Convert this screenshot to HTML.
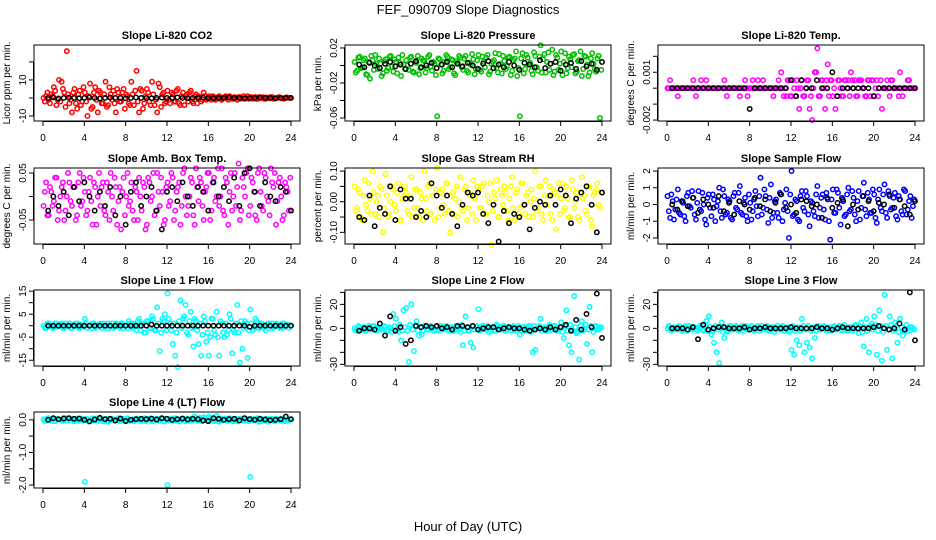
<!DOCTYPE html>
<html><head><meta charset="utf-8"><style>
html,body{margin:0;padding:0;background:#fff;}
svg{display:block;font-family:"Liberation Sans",sans-serif;}
</style></head><body>
<svg id="chart" width="936" height="540" viewBox="0 0 936 540" xmlns="http://www.w3.org/2000/svg">
<rect width="936" height="540" fill="#fff"/>
<text x="468" y="14" text-anchor="middle" font-size="13">FEF_090709  Slope Diagnostics</text>
<text x="468" y="531" text-anchor="middle" font-size="13">Hour of Day (UTC)</text>
</svg>
<script>
const xTicks = [0,4,8,12,16,20,24];
const co2Values = [0,1,-1,2,6,-4,10,9,3,26,-3,-8,5,-6,4,-2,3,-10,8,-5,6,-8,3,-3,9,-4,2,4,-8,3,-2,5,2,-3,9,-4,15,-8,4,-3,5,-2,9,-4,-8,6,2,-3,4,-3,2,-2,5,-4,3,1,-2,4,-3,2,1,-2,3,-1,1,-1,0.5,-0.5,1,-1,0.5,0,1,-0.5,0.5,-1,0.5,0,-0.5,1,0,-0.5,0.5,-0.5,0,0.5,-0.5,0,0.5,-0.5,0,0.5,0,-0.5,0.3,0];
const co2ValuesB = [-2,3,-3,1,4,-1,-2,5,-5,2,-1,3,-3,2,-4,6,-2,1,-6,3,-1,4,-3,2,-5,6,-1,-3,5,-2,3,-6,1,-4,2,4,-2,5,-6,1,3,-4,2,-1,8,-5,3,-2,-1,3,-2,4,-3,1,-4,2,3,-2,1,-3,0.5,-1,1,-0.5,0,1,-1,0.5,-0.5,0,1,-1,0.5,-0.5,0,0.5,-0.5,1,0,-0.5,0.5,0,-0.5,0.5,0,-0.5,0.3,0,0.5,-0.3,0,0.3,-0.3,0,0.3,0];
const co2Ref = [0,0.3,-0.3,0,0.2,0,-0.2,0,0.3,0,-0.3,0,0.2,0,0,-0.2,0,0.3,0,0,-0.2,0,0.2,0,0,0.3,0,-0.2,0,0,0.2,0,-0.2,0,0,0.2,0,0,-0.2,0,0,0.2,0,0,-0.2,0,0,0];
const pressureValues = [0.004,-0.006,0.010,-0.002,0.008,-0.011,-0.015,0.006,0.012,-0.004,0.002,-0.009,0.007,-0.003,0.011,-0.007,0.004,0.009,-0.012,0.001,0.006,-0.005,0.010,-0.008,0.003,-0.010,0.008,0.005,-0.003,0.012,-0.006,0.002,-0.058,0.007,-0.009,0.004,0.010,-0.002,0.006,-0.011,0.003,0.009,-0.005,0.011,-0.008,0.001,0.007,-0.004,0.012,-0.007,0.004,0.009,-0.010,0.002,0.006,-0.003,0.013,-0.009,0.005,-0.001,0.010,-0.006,0.008,-0.012,-0.058,0.014,-0.004,0.009,0.003,-0.010,0.011,-0.006,0.023,0.007,-0.008,0.015,0.002,-0.011,0.012,-0.005,0.016,0.004,-0.009,0.010,-0.002,0.013,-0.007,0.006,-0.012,0.011,0.001,-0.008,0.014,-0.004,0.008,-0.060];
const pressureValuesB = [-0.008,0.009,-0.003,0.006,-0.010,0.004,0.011,-0.005,0.002,0.008,-0.012,0.005,-0.006,0.010,-0.001,0.007,-0.009,0.003,0.012,-0.004,0.000,0.009,-0.007,0.004,0.011,-0.003,0.006,-0.008,0.010,-0.001,0.004,-0.011,0.008,0.001,-0.006,0.012,-0.004,0.007,-0.009,0.005,0.011,-0.002,0.008,-0.006,0.003,0.013,-0.010,0.006,-0.005,0.010,-0.002,0.012,-0.007,0.004,0.014,-0.008,0.002,0.011,-0.004,0.009,-0.011,0.006,0.016,-0.003,0.008,-0.009,0.012,0.001,-0.006,0.015,-0.002,0.010,-0.008,0.013,0.004,-0.005,0.018,-0.007,0.009,0.002,-0.011,0.014,-0.003,0.007,0.012,-0.009,0.005,0.016,-0.004,0.010,-0.012,0.008,0.002,-0.007,0.011,-0.005];
const pressureRef = [0.001,-0.002,0.003,0.000,-0.003,0.002,0.004,-0.001,0.001,-0.004,0.002,0.005,-0.002,0.000,0.003,-0.003,0.001,0.004,-0.002,0.002,-0.001,0.003,0.000,-0.004,0.002,0.005,-0.003,0.001,-0.002,0.004,0.000,-0.005,0.003,0.001,-0.002,0.006,-0.003,0.002,0.004,-0.006,0.001,0.003,-0.004,0.005,-0.001,0.002,-0.005,0.004];
const tempValues = [0,0.0005,0,0,-0.0005,0,0,0,0,0,0.0005,-0.0005,0,0.0005,0,0.0005,0,0,0,0,0,0,0.0005,-0.0005,0,0,0,0,-0.0005,0,0.0005,-0.0005,0,0.0005,0,0.0005,0,0.0005,0,0,0,-0.0005,0,0.0005,0.001,-0.0005,-0.0005,0.0005,-0.0005,0,0.0005,-0.0013,0.0005,-0.0005,0.0005,-0.0013,-0.002,0.001,0.0025,-0.0005,0.0005,-0.0013,0.0015,0.0005,-0.0005,-0.0013,0.0005,0,-0.0005,0.0005,0.0005,0.001,0,-0.0005,0.0005,0.0005,0,-0.0005,0.0005,0.0005,-0.0005,0.0005,0,-0.0013,0,0.0005,-0.0005,0.0005,0,0,0.001,-0.0005,0,0.0005,0,0];
const tempValuesB = [0,0,0,0,0,0,0,0,0,0,0,0,0,0,0,0,0,0,0,0,0,0,0,0,0,0,0,0,0,0,0,0,0,0,0,0,0,0,0,0,0,0,0,0,0,0,0.0005,-0.0005,0.0005,-0.0005,0,0,-0.0005,0,0.0005,-0.0005,0,0.001,-0.0005,0.0005,0,0.0005,-0.0005,0.0005,0,-0.0005,0.0005,-0.0005,0.0005,0,-0.0005,0.0005,0.0005,-0.0005,0.0005,0,-0.0005,0.0005,-0.0005,0.0005,0,-0.0005,0.0005,0,0,0,0.0005,0,0,-0.0005,0,0,0,0.0005,0,0];
const tempRef = [0,0,0,0,0,0,0,0,0,0,0,0,0,0,0,-0.0013,0,0,0,0,0,0,0,0.0005,-0.0005,0.0005,0,0,0.0005,0,0,0.001,-0.0005,0,0,0,0,0,0,-0.0005,0,0,0,0,0,0,0,0];
const ambValues = [-0.02,0.03,-0.04,0.01,-0.01,0.04,-0.03,0.02,-0.05,0.00,0.03,-0.02,0.02,-0.04,0.05,-0.01,0.01,-0.03,0.04,-0.06,0.02,0.00,-0.02,0.03,-0.04,0.01,0.05,-0.03,0.02,-0.01,-0.07,0.04,0.00,-0.02,0.03,-0.05,0.01,0.04,-0.03,0.02,-0.06,0.03,0.00,-0.04,0.05,-0.02,0.01,-0.05,0.03,-0.01,0.04,-0.03,0.02,-0.06,0.05,0.00,-0.02,0.04,-0.04,0.06,-0.01,0.03,-0.05,0.02,0.05,-0.03,0.04,0.00,-0.02,0.06,-0.04,0.03,0.01,-0.03,0.05,0.02,-0.05,0.04,0.00,0.06,-0.02,0.03,-0.04,0.05,0.01,-0.03,0.04,-0.01,0.06,0.02,-0.06,0.03,0.00,-0.04,0.02,-0.03];
const ambValuesB = [0.01,-0.04,0.02,-0.02,0.04,-0.05,0.00,0.03,-0.03,0.05,-0.01,0.02,-0.05,0.03,-0.02,0.04,-0.04,0.01,-0.01,0.03,-0.06,0.05,0.02,-0.03,0.03,-0.05,0.00,0.04,-0.06,0.02,0.01,-0.04,0.05,-0.01,-0.03,0.02,-0.05,0.00,0.03,-0.07,0.04,-0.01,0.05,-0.03,0.01,0.04,-0.06,0.02,-0.02,0.05,-0.05,0.01,0.03,-0.02,0.06,-0.04,0.00,0.03,-0.06,0.02,0.04,-0.02,0.01,0.05,-0.05,0.03,-0.01,0.06,0.00,-0.03,0.04,-0.06,0.05,0.00,-0.02,0.07,-0.03,0.02,0.05,-0.04,0.04,0.01,-0.05,0.06,-0.02,0.05,0.00,-0.04,0.03,0.05,-0.01,0.04,-0.05,0.03,0.01,0.04];
const ambRef = [-0.03,0.00,-0.02,0.01,-0.04,0.02,-0.01,0.03,0.00,-0.03,0.01,-0.02,0.02,-0.04,0.00,-0.06,0.01,0.03,-0.02,0.00,0.02,-0.03,-0.07,0.01,0.02,-0.01,0.03,0.00,-0.02,0.02,0.01,-0.03,0.03,0.00,0.02,-0.01,0.04,-0.02,0.05,0.06,0.01,-0.02,0.03,0.00,-0.01,0.02,0.01,-0.03];
const rhValues = [0.05,-0.02,0.03,-0.06,0.07,-0.03,0.01,0.10,-0.04,0.02,0.05,-0.10,0.09,-0.05,0.00,0.04,-0.03,0.06,-0.06,0.02,0.03,-0.04,0.08,-0.02,0.04,-0.05,0.01,0.10,-0.03,0.06,0.02,-0.06,0.11,-0.02,0.04,-0.04,0.06,-0.10,0.03,0.01,-0.05,0.08,-0.03,0.05,-0.02,0.02,0.07,-0.06,0.04,-0.02,0.06,-0.04,0.00,-0.14,0.03,0.07,-0.05,0.02,0.05,-0.03,0.01,0.08,-0.06,0.04,-0.02,0.06,-0.04,0.03,0.00,-0.05,0.10,-0.02,0.05,-0.06,0.07,0.02,-0.04,0.04,-0.09,0.06,0.01,-0.03,0.05,-0.05,0.07,-0.02,0.03,-0.06,0.08,0.02,-0.04,0.05,-0.08,0.03,0.06,-0.02];
const rhValuesB = [-0.03,0.04,-0.05,0.02,-0.01,0.06,-0.04,0.03,0.00,-0.05,0.04,-0.02,0.02,-0.04,0.05,-0.01,0.03,-0.06,0.01,0.05,-0.03,0.02,-0.05,0.04,-0.02,0.03,-0.06,0.01,0.05,-0.04,0.02,0.04,-0.05,0.03,-0.01,0.06,-0.03,0.02,-0.04,0.05,0.00,-0.02,0.04,-0.06,0.03,-0.04,0.01,0.05,-0.02,0.05,-0.04,0.02,0.06,-0.03,0.01,-0.05,0.04,-0.01,0.03,-0.06,0.05,-0.02,0.03,-0.04,0.06,-0.01,0.02,-0.05,0.04,0.01,-0.03,0.05,-0.04,0.02,-0.01,0.05,-0.06,0.03,0.02,-0.04,0.06,-0.02,0.01,-0.05,0.04,0.00,-0.05,0.03,0.01,-0.03,0.05,-0.06,0.02,0.04,-0.01,0.03];
const rhRef = [-0.05,-0.06,0.02,-0.08,-0.02,-0.04,0.05,-0.06,0.04,0.01,0.01,-0.05,-0.03,-0.05,0.06,0.02,-0.02,0.02,-0.04,-0.08,-0.01,0.03,0.02,0.03,-0.04,-0.07,-0.01,-0.13,-0.03,-0.07,-0.04,-0.05,-0.01,-0.09,-0.02,0.00,-0.01,0.02,-0.01,0.04,0.02,-0.07,0.01,0.03,0.05,-0.01,-0.10,0.03];
const sampleValues = [0.5,-0.8,0.2,-0.3,0.9,-0.6,0.1,-1.0,0.7,-0.2,0.4,-0.9,0.8,-0.4,0.0,-1.2,0.6,-0.7,0.3,-0.1,1.0,-0.8,0.5,-0.5,0.2,-0.9,0.7,-0.3,1.1,-0.6,0.4,-1.0,0.1,-0.4,0.8,-0.7,1.6,-0.2,0.5,-1.1,1.2,-0.5,0.3,-0.8,0.6,-0.3,0.9,-2.0,2.0,-0.6,0.2,-1.0,0.8,-0.4,0.5,-1.3,0.1,-0.7,1.1,-0.2,0.6,-0.9,0.3,-2.1,0.9,-0.5,0.7,-1.2,0.2,-0.6,1.0,-0.3,0.4,-1.0,0.8,-0.2,1.3,-0.7,0.3,-0.5,0.6,-1.1,0.9,-0.4,1.2,-0.8,0.5,-0.2,0.7,-0.9,0.3,-0.6,0.8,-0.3,0.5,-0.1];
const sampleValuesB = [-0.4,0.6,-0.9,0.3,-0.5,0.2,-0.7,0.5,-0.1,0.8,-0.6,0.1,-0.3,0.7,-0.9,0.4,-0.2,0.6,-1.0,0.2,-0.4,0.9,-0.6,0.3,-0.8,0.5,-0.2,0.7,-0.5,0.1,-0.7,0.6,-0.9,0.3,-0.1,0.5,-0.6,0.9,-0.3,0.4,-0.8,0.2,-0.5,0.7,-1.0,0.1,-0.4,0.6,-0.7,0.3,-0.9,0.5,-0.2,0.8,-0.6,0.2,-0.4,0.6,-0.8,0.4,-0.3,0.7,-1.0,0.3,-0.5,0.9,-0.2,0.4,-0.7,0.6,-0.4,0.8,-0.6,0.2,-0.9,0.5,-0.3,0.7,-0.5,0.9,-0.8,0.3,-0.2,0.6,-0.5,0.8,-0.3,0.4,-0.7,0.5,-0.4,0.9,-0.6,0.2,-0.8,0.3];
const sampleRef = [0.0,-0.3,0.2,-0.1,0.4,-0.5,0.3,0.0,-0.2,0.5,-0.4,0.1,-0.6,0.2,0.0,-0.3,0.4,-0.1,0.3,-0.4,0.1,0.6,-0.2,0.0,-0.5,0.3,0.2,-0.1,0.0,-0.8,0.4,-0.2,0.1,0.3,-1.3,0.0,-0.3,0.5,0.2,-0.4,0.1,0.0,0.6,-0.2,0.3,-0.1,-0.6,0.2];
const line1Values = [0,-1,1,0,-1,1,0,1,-1,0,1,-1,0,1,-1,0,3,-1,0,1,-1,0,1,0,-1,1,0,-1,1,0,1,-1,0,2,-1,1,-2,3,1,-3,2,-1,4,-2,8,-11,3,5,14,1,-8,-13,-18,11,3,9,-4,6,-9,2,-8,-13,4,-7,-13,3,-2,6,-13,1,-5,-4,5,-12,-3,9,-16,-10,2,-14,7,-2,3,-1,1,0,-2,1,0,-1,1,0,-1,1,0,-1];
const line1ValuesB = [-1,1,0,-1,1,-0.5,0.5,-1,1,0,-1,0.5,1,-1,0.5,-0.5,1,0,-1,1,-0.5,0.5,-1,1,0,-1,1,-0.5,0.5,-1,1,0,-1,1,-0.5,0.5,2,-2,1,-3,2,-1,3,-2,1,-3,2,-2,3,-2,1,-3,2,-1,4,-3,2,-1,3,-2,1,-4,2,-3,-5,3,-4,-5,2,-3,1,-2,3,-2,1,-3,2,-1,1,-2,1,-1,2,-1,1,-1,0.5,-1,1,-0.5,0.5,-1,1,-0.5,0.5,0];
const line1Ref = [0,0,0,0,0,0,0,0,0,0,0,0,0,0,0,0,0,0,0,0,0.5,0,0,0,0,0,0,0,0,0,0,0,0,0,0,0,0,0,0,-0.5,0,0,0,0,0,0,0,0];
const line2Values = [0,-1,1,0,-2,1,0,2,-1,1,0,-1,1,-2,0,12,8,-3,-10,15,17,-28,20,-19,6,-6,-5,2,-1,1,0,-1,2,-1,1,0,-1,1,-2,0,1,-3,-14,10,-2,-12,-16,1,16,-1,2,0,-3,1,-2,3,0,-1,2,-1,0,1,-2,0,-5,1,-2,0,2,-20,-18,1,8,0,-2,1,-1,2,0,-1,5,-8,15,-14,-20,27,-4,-26,6,-1,-13,18,-20,2,-1,0];
const line2ValuesB = [-2,2,-1,1,-2,2,-1,2,-2,1,-1,2,-2,1,-3,2,-1,3,-2,1,-2,3,-1,2,-2,1,-2,2,-1,2,-2,1,-2,2,-1,2,-2,1,-2,2,-1,3,-2,1,-2,2,-1,2,-2,2,-1,2,-2,1,-2,2,-1,2,-2,1,-2,2,-1,2,-2,1,-2,2,-3,2,-1,2,-2,1,-2,3,-1,2,-2,1,-3,2,-2,3,-2,1,-3,2,-2,3,-1,2,-3,2,-1,1];
const line2Ref = [-2,0,0,-1,4,-6,10,-2,1,-13,-10,2,1,2,1,2,0,1,-1,2,2,1,2,-1,0,1,1,-1,0,1,0,0,-1,-2,-1,0,-1,1,-1,1,3,-2,7,-1,12,1,29,-8];
const line3Values = [0,1,-1,0,1,-1,0,2,-1,0,1,-1,0,1,-2,6,10,-5,-12,-20,-29,5,-8,-3,2,-1,0,1,-1,2,0,-1,1,0,-1,2,0,-1,1,-2,0,1,-1,0,1,-2,0,-3,-18,-22,-10,-14,8,-20,-12,-16,-25,-8,2,-1,0,1,-2,0,1,-1,0,2,-1,0,-2,1,0,3,-4,5,-15,8,-20,4,10,-22,15,-27,28,-18,10,-25,5,-12,8,-6,-3,0,1,0];
const line3ValuesB = [2,-2,1,-1,2,-2,1,-2,2,-1,1,-2,2,-1,3,-2,1,-3,2,-1,2,-3,1,-2,2,-1,2,-2,1,-2,2,-1,2,-2,1,-2,2,-1,2,-2,1,-3,2,-1,2,-2,1,-2,2,-2,1,-2,2,-1,2,-2,1,-2,2,-1,2,-2,1,-2,2,-1,2,-2,3,-2,1,-2,2,-1,2,-3,1,-2,2,-1,3,-2,2,-3,2,-1,3,-2,2,-3,1,-2,3,-2,1,-1];
const line3Ref = [0,0,0,-1,1,-9,3,-1,0,1,1,0,0,0,1,-1,0,0,1,0,0,0,0,1,0,0,0,0,1,0,0,-1,0,1,0,0,0,0,0,1,2,0,-1,0,4,-1,30,-10];
const line4Values = [0.02,-0.03,0.05,0.00,-0.04,0.03,0.01,-0.02,0.06,-0.03,0.02,0.00,-0.05,0.04,-0.01,0.03,-1.9,0.01,-0.03,0.05,-0.02,0.00,0.04,-0.04,0.02,-0.06,0.03,0.00,-0.02,0.05,-0.03,0.01,0.04,-0.02,0.00,-0.04,0.03,0.01,-0.03,0.05,-0.01,0.02,-0.04,0.00,0.03,-0.02,0.04,-0.05,-2.0,0.02,-0.03,0.05,0.01,-0.02,0.04,-0.04,0.00,0.03,-0.01,0.06,-0.03,0.02,0.08,-0.02,0.10,0.01,-0.04,0.12,-0.06,0.03,0.00,-0.03,0.05,-0.02,0.01,-0.05,0.04,0.00,-0.03,0.02,-1.75,0.03,-0.02,0.05,-0.04,0.01,0.00,-0.06,0.03,-0.02,0.04,0.00,-0.03,0.02,0.01,-0.02];
const line4ValuesB = [-0.03,0.04,-0.01,0.03,-0.04,0.02,0.00,-0.03,0.05,-0.02,0.03,-0.04,0.01,-0.03,0.04,-0.02,0.03,-0.04,0.02,-0.01,0.04,-0.03,0.02,-0.05,0.03,-0.02,0.04,-0.03,0.01,-0.04,0.03,-0.02,0.05,-0.03,0.02,-0.01,0.04,-0.03,0.02,-0.04,0.03,0.00,-0.02,0.04,-0.03,0.02,-0.04,0.03,-0.01,0.04,-0.03,0.02,-0.05,0.03,-0.02,0.04,-0.03,0.05,0.10,-0.02,0.06,-0.04,0.03,-0.02,0.05,-0.03,0.02,-0.04,0.03,-0.01,0.04,-0.03,0.02,-0.05,0.03,-0.02,0.04,-0.03,0.01,-0.04,0.03,-0.02,0.04,-0.06,0.02,-0.03,0.04,-0.02,0.03,-0.04,0.02,-0.01,0.03,-0.04,0.02,0.00];
const line4Ref = [0.00,0.05,0.02,0.04,0.05,0.03,0.04,0.00,-0.05,0.01,0.06,0.02,0.03,-0.02,0.04,-0.04,0.00,0.02,0.03,0.02,0.04,0.01,0.05,0.03,0.00,0.02,0.04,0.01,0.03,0.02,-0.02,-0.04,0.05,0.03,0.00,0.02,0.03,-0.02,0.05,0.02,0.00,0.03,0.01,-0.01,0.00,0.02,0.10,0.02];

const panels = [
 {name:'co2',title:'Slope Li-820 CO2',ylab:'Licor ppm per min.',col:0,row:0,ymin:-12.8,ymax:29.4,ticks:[-10,0,10,20],labels:{'-10':'-10','10':'10'},color:'#ff0000',vals:co2Values,valsB:co2ValuesB,ref:co2Ref},
 {name:'pressure',title:'Slope Li-820 Pressure',ylab:'kPa per min.',col:1,row:0,ymin:-0.0634,ymax:0.0234,ticks:[-0.06,-0.04,-0.02,0,0.02],labels:{'0.02':'0.02','-0.02':'-0.02','-0.06':'-0.06'},color:'#00c000',vals:pressureValues,valsB:pressureValuesB,ref:pressureRef},
 {name:'temp',title:'Slope Li-820 Temp.',ylab:'degrees C per min.',col:2,row:0,ymin:-0.00206,ymax:0.00271,ticks:[-0.002,-0.001,0,0.001,0.002],labels:{'0.001':'0.001','-0.002':'-0.002'},color:'#ff00ff',vals:tempValues,valsB:tempValuesB,ref:tempRef},
 {name:'amb-box',title:'Slope Amb. Box Temp.',ylab:'degrees C per min.',col:0,row:1,ymin:-0.101,ymax:0.0606,ticks:[-0.05,0,0.05],labels:{'-0.05':'-0.05','0.05':'0.05'},color:'#ff00ff',vals:ambValues,valsB:ambValuesB,ref:ambRef},
 {name:'rh',title:'Slope Gas Stream RH',ylab:'percent per min.',col:1,row:1,ymin:-0.138,ymax:0.110,ticks:[-0.1,-0.05,0,0.05,0.1],labels:{'-0.1':'-0.10','0':'0.00','0.1':'0.10'},color:'#ffff00',vals:rhValues,valsB:rhValuesB,ref:rhRef},
 {name:'sample-flow',title:'Slope Sample Flow',ylab:'ml/min per min.',col:2,row:1,ymin:-2.36,ymax:2.18,ticks:[-2,-1,0,1,2],labels:{'-2':'-2','-1':'-1','0':'0','1':'1','2':'2'},color:'#0000ff',vals:sampleValues,valsB:sampleValuesB,ref:sampleRef},
 {name:'line1',title:'Slope Line 1 Flow',ylab:'ml/min per min.',col:0,row:2,ymin:-17.5,ymax:15.5,ticks:[-15,-10,-5,0,5,10,15],labels:{'-15':'-15','-5':'-5','5':'5','15':'15'},color:'#00ffff',vals:line1Values,valsB:line1ValuesB,ref:line1Ref},
 {name:'line2',title:'Slope Line 2 Flow',ylab:'ml/min per min.',col:1,row:2,ymin:-31.4,ymax:32,ticks:[-30,-20,-10,0,10,20,30],labels:{'-30':'-30','0':'0','20':'20'},color:'#00ffff',vals:line2Values,valsB:line2ValuesB,ref:line2Ref},
 {name:'line3',title:'Slope Line 3 Flow',ylab:'ml/min per min.',col:2,row:2,ymin:-31.4,ymax:32,ticks:[-30,-20,-10,0,10,20,30],labels:{'-30':'-30','0':'0','20':'20'},color:'#00ffff',vals:line3Values,valsB:line3ValuesB,ref:line3Ref},
 {name:'line4',title:'Slope Line 4 (LT) Flow',ylab:'ml/min per min.',col:0,row:3,ymin:-2.09,ymax:0.24,ticks:[-2,-1.5,-1,-0.5,0],labels:{'-2':'-2.0','-1':'-1.0','0':'0.0'},color:'#00ffff',vals:line4Values,valsB:line4ValuesB,ref:line4Ref}
];
const colLeft=[34,345,658], rowTop=[45,168,290,412], boxW=266, boxH=76;
const NS='http://www.w3.org/2000/svg';
const svg=document.getElementById('chart');
function mk(tag,attrs,parent){const e=document.createElementNS(NS,tag);for(const k in attrs)e.setAttribute(k,attrs[k]);(parent||svg).appendChild(e);return e;}
panels.forEach(p=>{
  const L=colLeft[p.col],T=rowTop[p.row],B=T+boxH;
  const g=mk('g',{});
  
  
  const xs=h=>L+9+h*(248/24);
  const ys=v=>B-(v-p.ymin)/(p.ymax-p.ymin)*boxH;
  const t=mk('text',{x:L+boxW/2,y:T-6,'text-anchor':'middle','font-size':'11','font-weight':'bold'},g);
  t.textContent=p.title;
  
  
  const yl=mk('text',{x:0,y:0,'text-anchor':'middle','font-size':'10',transform:`translate(${L-24},${T+boxH/2}) rotate(-90)`},g);
  yl.textContent=p.ylab;
  
  
  p.vals.forEach((v,i)=>{
    const c=mk('circle',{cx:xs(i*0.25+0.05),cy:ys(v),r:2.2,fill:'none',stroke:p.color,'stroke-width':1.5},g);
    
    
  });
  p.valsB.forEach((v,i)=>{
    const c=mk('circle',{cx:xs(i*0.25+0.175),cy:ys(v),r:2.2,fill:'none',stroke:p.color,'stroke-width':1.5},g);
    
    
  });
  p.ref.forEach((v,i)=>{
    const c=mk('circle',{cx:xs(i*0.5+0.5),cy:ys(v),r:2.2,fill:'none',stroke:'#000','stroke-width':1.5},g);
    
    
  });
  const box=mk('rect',{x:L,y:T,width:boxW,height:boxH,fill:'none',stroke:'#000','stroke-width':1},g);
  
  
  mk('line',{x1:xs(0),x2:xs(24),y1:B+0.5,y2:B+0.5,stroke:'#000'},g);
  xTicks.forEach(h=>{
    mk('line',{x1:xs(h),x2:xs(h),y1:B,y2:B+5,stroke:'#000'},g);
    const tl=mk('text',{x:xs(h),y:B+20,'text-anchor':'middle','font-size':'10'},g);
    tl.textContent=h;
    
    
  });
  p.ticks.forEach(v=>{
    const y=ys(v);
    mk('line',{x1:L-5,x2:L,y1:y,y2:y,stroke:'#000'},g);
    const lab=p.labels[String(v)];
    if(lab){
      const tl=mk('text',{x:0,y:0,'text-anchor':'middle','font-size':'10',transform:`translate(${L-8},${y}) rotate(-90)`},g);
      tl.textContent=lab;
      
      
    }
  });
  mk('line',{x1:L-0.5,x2:L-0.5,y1:ys(p.ticks[0]),y2:ys(p.ticks[p.ticks.length-1]),stroke:'#000'},g);
});
</script>
</body></html>
